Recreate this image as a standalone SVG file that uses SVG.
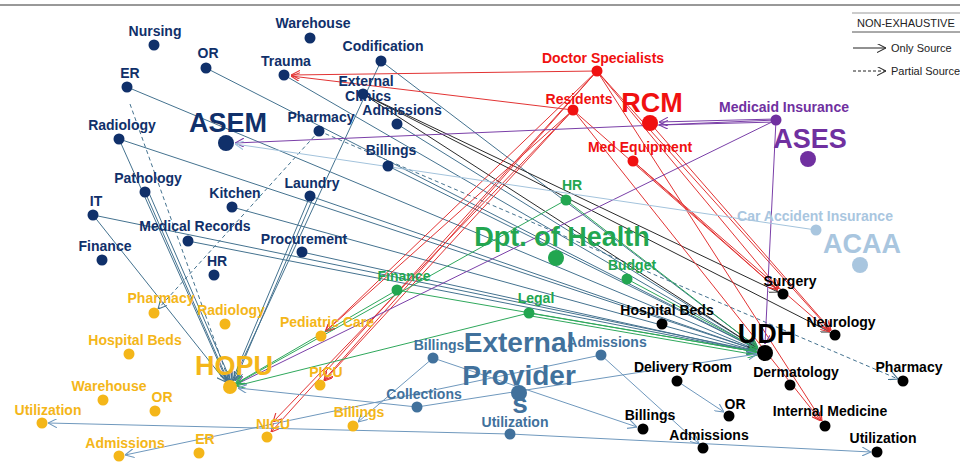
<svg xmlns="http://www.w3.org/2000/svg" width="960" height="462" viewBox="0 0 960 462">
<style>
.t{font-family:"Liberation Sans",Arial,sans-serif;font-weight:bold;font-size:14px;text-anchor:middle}
.big{font-size:27px}
.xl{font-size:28px}
.navy{fill:#10306a}.gold{fill:#f4b619}.red{fill:#f01010}.pur{fill:#7030a0}.grn{fill:#22a650}.lb{fill:#a9c6df}.blk{fill:#000}.ep{fill:#41719c}
line{fill:none;stroke-width:1}
.ca{stroke:#44728f}.cr{stroke:#e23434}.cp{stroke:#7a3fa8}.cg{stroke:#2fa85c}.cl{stroke:#a3c3dc}.ck{stroke:#2a2a2a}.ce{stroke:#6f98bd}
.d{stroke-dasharray:4 3}
.leg{font-family:"Liberation Sans",Arial,sans-serif;font-size:11px;fill:#222}
</style>
<defs>
<marker id="ma" viewBox="0 0 10 10" refX="10" refY="5" markerWidth="9" markerHeight="9" markerUnits="userSpaceOnUse" orient="auto"><path d="M0,0 L10,5 L0,10" fill="none" stroke="#44728f" stroke-width="1.2"/></marker>
<marker id="mr" viewBox="0 0 10 10" refX="10" refY="5" markerWidth="9" markerHeight="9" markerUnits="userSpaceOnUse" orient="auto"><path d="M0,0 L10,5 L0,10" fill="none" stroke="#e23434" stroke-width="1.2"/></marker>
<marker id="mp" viewBox="0 0 10 10" refX="10" refY="5" markerWidth="9" markerHeight="9" markerUnits="userSpaceOnUse" orient="auto"><path d="M0,0 L10,5 L0,10" fill="none" stroke="#7a3fa8" stroke-width="1.2"/></marker>
<marker id="mg" viewBox="0 0 10 10" refX="10" refY="5" markerWidth="9" markerHeight="9" markerUnits="userSpaceOnUse" orient="auto"><path d="M0,0 L10,5 L0,10" fill="none" stroke="#2fa85c" stroke-width="1.2"/></marker>
<marker id="ml" viewBox="0 0 10 10" refX="10" refY="5" markerWidth="9" markerHeight="9" markerUnits="userSpaceOnUse" orient="auto"><path d="M0,0 L10,5 L0,10" fill="none" stroke="#a3c3dc" stroke-width="1.2"/></marker>
<marker id="mk" viewBox="0 0 10 10" refX="10" refY="5" markerWidth="9" markerHeight="9" markerUnits="userSpaceOnUse" orient="auto"><path d="M0,0 L10,5 L0,10" fill="none" stroke="#2a2a2a" stroke-width="1.2"/></marker>
<marker id="me" viewBox="0 0 10 10" refX="10" refY="5" markerWidth="9" markerHeight="9" markerUnits="userSpaceOnUse" orient="auto"><path d="M0,0 L10,5 L0,10" fill="none" stroke="#6f98bd" stroke-width="1.2"/></marker>
</defs>
<rect width="960" height="462" fill="#fff"/>
<line x1="0" y1="5" x2="960" y2="5" stroke="#333" stroke-width="2"/>

<g id="connectors">
<g class="ca" marker-end="url(#ma)">
<line x1="206" y1="68" x2="757" y2="349"/>
<line x1="127" y1="87" x2="757" y2="350"/>
<line x1="284" y1="75" x2="757" y2="349"/>
<line x1="381" y1="61" x2="758" y2="348"/>
<line x1="119" y1="139" x2="756" y2="350"/>
<line x1="93" y1="215" x2="756" y2="351"/>
<line x1="232" y1="207" x2="756" y2="351"/>
<line x1="188" y1="241" x2="756" y2="352"/>
<line x1="310" y1="196" x2="756" y2="350"/>
<line x1="302" y1="252" x2="756" y2="352"/>
<line x1="388" y1="166" x2="757" y2="349"/>
<line x1="397" y1="124" x2="757" y2="348"/>
<line x1="119" y1="139" x2="227" y2="381"/>
<line x1="145" y1="192" x2="228" y2="381"/>
<line x1="149" y1="193" x2="231" y2="381"/>
<line x1="93" y1="215" x2="226" y2="382"/>
<line x1="310" y1="196" x2="232" y2="381"/>
<line x1="313" y1="198" x2="235" y2="381"/>
<line x1="381" y1="61" x2="233" y2="381"/>
<line class="d" x1="130" y1="104" x2="229" y2="381"/>
<line class="d" x1="319" y1="131" x2="158" y2="309"/>
<line class="d" x1="319" y1="131" x2="898" y2="379"/>
</g>
<g class="ck" marker-end="url(#mk)">
<line x1="363" y1="94" x2="778" y2="292"/>
<line x1="363" y1="94" x2="830" y2="332"/>
<line x1="363" y1="94" x2="757" y2="348"/>
</g>
<g class="cr" marker-end="url(#mr)">
<line x1="597" y1="71" x2="291" y2="75"/>
<line x1="573" y1="110" x2="291" y2="76"/>
<line x1="597" y1="71" x2="326" y2="331"/>
<line x1="597" y1="71" x2="324" y2="380"/>
<line x1="597" y1="71" x2="271" y2="432"/>
<line x1="573" y1="110" x2="325" y2="332"/>
<line x1="573" y1="110" x2="324" y2="381"/>
<line x1="573" y1="110" x2="273" y2="422"/>
<line x1="597" y1="71" x2="779" y2="289"/>
<line x1="597" y1="71" x2="831" y2="331"/>
<line x1="597" y1="71" x2="822" y2="421"/>
<line x1="573" y1="110" x2="778" y2="290"/>
<line x1="573" y1="110" x2="821" y2="421"/>
<line x1="650" y1="123" x2="831" y2="330"/>
<line x1="633" y1="161" x2="778" y2="290"/>
<line x1="633" y1="161" x2="830" y2="332"/>
</g>
<g class="cp" marker-end="url(#mp)">
<line x1="776" y1="119" x2="659" y2="122"/>
<line x1="776" y1="122" x2="659" y2="125"/>
<line x1="776" y1="120" x2="235" y2="143"/>
<line x1="776" y1="120" x2="237" y2="384"/>
<line x1="776" y1="120" x2="765" y2="344"/>
</g>
<g class="cg" marker-end="url(#mg)">
<line x1="566" y1="200" x2="236" y2="384"/>
<line x1="397" y1="290" x2="235" y2="384"/>
<line x1="529" y1="313" x2="236" y2="386"/>
<line x1="566" y1="200" x2="758" y2="348"/>
<line x1="627" y1="279" x2="758" y2="349"/>
<line x1="397" y1="290" x2="757" y2="352"/>
<line x1="529" y1="313" x2="757" y2="352"/>
<line x1="531" y1="316" x2="757" y2="355"/>
</g>
<g class="cl" marker-end="url(#ml)">
<line x1="816" y1="230" x2="235" y2="144"/>
</g>
<g class="ce" marker-end="url(#me)">
<line x1="433" y1="358" x2="358" y2="422"/>
<line x1="433" y1="358" x2="637" y2="427"/>
<line x1="601" y1="355" x2="699" y2="444"/>
<line x1="601" y1="355" x2="125" y2="455"/>
<line x1="677" y1="381" x2="724" y2="412"/>
<line x1="510" y1="434" x2="48" y2="423"/>
<line x1="510" y1="434" x2="871" y2="452"/>
<line x1="417" y1="407" x2="238" y2="388"/>
<line x1="417" y1="407" x2="757" y2="354"/>
</g>
</g>

<g id="asem" class="navy">
<g id="asem-nursing"><circle cx="154" cy="45" r="5.5"/><text class="t" x="155" y="36">Nursing</text></g>
<g id="asem-warehouse"><circle cx="310" cy="38" r="5.5"/><text class="t" x="313" y="28">Warehouse</text></g>
<g id="asem-or"><circle cx="206" cy="68" r="5.5"/><text class="t" x="208" y="58">OR</text></g>
<g id="asem-codification"><circle cx="381" cy="61" r="5.5"/><text class="t" x="383" y="51">Codification</text></g>
<g id="asem-trauma"><circle cx="284" cy="75" r="5.5"/><text class="t" x="286" y="66">Trauma</text></g>
<g id="asem-er"><circle cx="127" cy="87" r="5.5"/><text class="t" x="130" y="78">ER</text></g>
<g id="asem-clinics"><circle cx="363" cy="94" r="5.5"/><text class="t" x="366" y="86">External</text><text class="t" x="368" y="101">Clinics</text></g>
<g id="asem-admissions"><circle cx="397" cy="124" r="5.5"/><text class="t" x="402" y="115">Admissions</text></g>
<g id="asem-radiology"><circle cx="119" cy="139" r="5.5"/><text class="t" x="122" y="130">Radiology</text></g>
<g id="asem-main"><circle cx="226" cy="143" r="8"/><text class="t big" x="228" y="132">ASEM</text></g>
<g id="asem-pharmacy"><circle cx="319" cy="131" r="5.5"/><text class="t" x="321" y="122">Pharmacy</text></g>
<g id="asem-billings"><circle cx="388" cy="166" r="5.5"/><text class="t" x="391" y="155">Billings</text></g>
<g id="asem-pathology"><circle cx="145" cy="192" r="5.5"/><text class="t" x="148" y="183">Pathology</text></g>
<g id="asem-laundry"><circle cx="310" cy="196" r="5.5"/><text class="t" x="312" y="188">Laundry</text></g>
<g id="asem-kitchen"><circle cx="232" cy="207" r="5.5"/><text class="t" x="235" y="198">Kitchen</text></g>
<g id="asem-it"><circle cx="93" cy="215" r="5.5"/><text class="t" x="96" y="206">IT</text></g>
<g id="asem-records"><circle cx="188" cy="241" r="5.5"/><text class="t" x="195" y="231">Medical Records</text></g>
<g id="asem-procurement"><circle cx="302" cy="252" r="5.5"/><text class="t" x="304" y="244">Procurement</text></g>
<g id="asem-finance"><circle cx="102" cy="260" r="5.5"/><text class="t" x="105" y="251">Finance</text></g>
<g id="asem-hr"><circle cx="214" cy="275" r="5.5"/><text class="t" x="217" y="266">HR</text></g>
</g>

<g id="hopu" class="gold">
<g id="hopu-pharmacy"><circle cx="154" cy="313" r="5.5"/><text class="t" x="161" y="303">Pharmacy</text></g>
<g id="hopu-radiology"><circle cx="225" cy="324" r="5.5"/><text class="t" x="231" y="315">Radiology</text></g>
<g id="hopu-pediatric"><circle cx="321" cy="336" r="5.5"/><text class="t" x="327" y="327">Pediatric Care</text></g>
<g id="hopu-beds"><circle cx="129" cy="354" r="5.5"/><text class="t" x="135" y="345">Hospital Beds</text></g>
<g id="hopu-main"><circle cx="230" cy="387" r="7"/><text class="t big" x="234" y="375">HOPU</text></g>
<g id="hopu-picu"><circle cx="320" cy="385" r="5.5"/><text class="t" x="326" y="377">PICU</text></g>
<g id="hopu-warehouse"><circle cx="103" cy="400" r="5.5"/><text class="t" x="109" y="391">Warehouse</text></g>
<g id="hopu-or"><circle cx="155" cy="411" r="5.5"/><text class="t" x="162" y="402">OR</text></g>
<g id="hopu-utilization"><circle cx="42" cy="423" r="5.5"/><text class="t" x="48" y="415">Utilization</text></g>
<g id="hopu-nicu"><circle cx="267" cy="437" r="5.5"/><text class="t" x="273" y="429">NICU</text></g>
<g id="hopu-billings"><circle cx="353" cy="426" r="5.5"/><text class="t" x="359" y="417">Billings</text></g>
<g id="hopu-er"><circle cx="199" cy="453" r="5.5"/><text class="t" x="205" y="444">ER</text></g>
<g id="hopu-admissions"><circle cx="119" cy="456" r="5.5"/><text class="t" x="125" y="448">Admissions</text></g>
</g>

<g id="rcm" class="red">
<g id="rcm-doctors"><circle cx="597" cy="71" r="5.5"/><text class="t" x="603" y="63">Doctor Specialists</text></g>
<g id="rcm-residents"><circle cx="573" cy="110" r="5.5"/><text class="t" x="579" y="104">Residents</text></g>
<g id="rcm-main"><circle cx="650" cy="123" r="8"/><text class="t big" x="652" y="112">RCM</text></g>
<g id="rcm-equipment"><circle cx="633" cy="161" r="5.5"/><text class="t" x="640" y="152">Med Equipment</text></g>
</g>

<g id="ases" class="pur">
<g id="ases-medicaid"><circle cx="776" cy="120" r="5.5"/><text class="t" x="784" y="112">Medicaid Insurance</text></g>
<g id="ases-main"><circle cx="808" cy="159" r="8"/><text class="t big" x="810" y="148">ASES</text></g>
</g>

<g id="doh" class="grn">
<g id="doh-hr"><circle cx="566" cy="200" r="5.5"/><text class="t" x="572" y="190">HR</text></g>
<g id="doh-main"><circle cx="556" cy="258" r="8"/><text class="t big" x="562" y="246">Dpt. of Health</text></g>
<g id="doh-budget"><circle cx="627" cy="279" r="5.5"/><text class="t" x="632" y="270">Budget</text></g>
<g id="doh-finance"><circle cx="397" cy="290" r="5.5"/><text class="t" x="404" y="281">Finance</text></g>
<g id="doh-legal"><circle cx="529" cy="313" r="5.5"/><text class="t" x="536" y="303">Legal</text></g>
</g>

<g id="acaa" class="lb">
<g id="acaa-car"><circle cx="816" cy="230" r="5.5"/><text class="t" x="815" y="221">Car Accident Insurance</text></g>
<g id="acaa-main"><circle cx="860" cy="265" r="8"/><text class="t big" x="862" y="253">ACAA</text></g>
</g>

<g id="udh" class="blk">
<g id="udh-surgery"><circle cx="783" cy="294" r="5.5"/><text class="t" x="790" y="286">Surgery</text></g>
<g id="udh-neurology"><circle cx="835" cy="335" r="5.5"/><text class="t" x="841" y="327">Neurology</text></g>
<g id="udh-beds"><circle cx="662" cy="324" r="5.5"/><text class="t" x="667" y="315">Hospital Beds</text></g>
<g id="udh-main"><circle cx="765" cy="353" r="8"/><text class="t big" x="767" y="343">UDH</text></g>
<g id="udh-delivery"><circle cx="677" cy="381" r="5.5"/><text class="t" x="683" y="372">Delivery Room</text></g>
<g id="udh-dermatology"><circle cx="790" cy="385" r="5.5"/><text class="t" x="796" y="377">Dermatology</text></g>
<g id="udh-pharmacy"><circle cx="903" cy="381" r="5.5"/><text class="t" x="909" y="372">Pharmacy</text></g>
<g id="udh-or"><circle cx="729" cy="416" r="5.5"/><text class="t" x="735" y="409">OR</text></g>
<g id="udh-internal"><circle cx="825" cy="426" r="5.5"/><text class="t" x="830" y="416">Internal Medicine</text></g>
<g id="udh-billings"><circle cx="643" cy="429" r="5.5"/><text class="t" x="650" y="420">Billings</text></g>
<g id="udh-admissions"><circle cx="703" cy="448" r="5.5"/><text class="t" x="709" y="440">Admissions</text></g>
<g id="udh-utilization"><circle cx="877" cy="452" r="5.5"/><text class="t" x="883" y="443">Utilization</text></g>
</g>

<g id="ep" class="ep">
<g id="ep-billings"><circle cx="433" cy="358" r="5.5"/><text class="t" x="439" y="350">Billings</text></g>
<g id="ep-main"><circle cx="519" cy="393" r="8"/><text class="t xl" x="519" y="352">External</text><text class="t xl" x="519" y="385">Provider</text><text class="t xl" x="520" y="413">s</text></g>
<g id="ep-admissions"><circle cx="601" cy="355" r="5.5"/><text class="t" x="607" y="347">Admissions</text></g>
<g id="ep-collections"><circle cx="417" cy="407" r="5.5"/><text class="t" x="424" y="399">Collections</text></g>
<g id="ep-utilization"><circle cx="510" cy="434" r="5.5"/><text class="t" x="515" y="427">Utilization</text></g>
</g>

<g id="legend">
<line x1="852" y1="13" x2="960" y2="13" stroke="#999" stroke-width="1"/>
<line x1="852" y1="32" x2="960" y2="32" stroke="#555" stroke-width="1"/>
<text class="leg" x="857" y="27">NON-EXHAUSTIVE</text>
<line x1="853" y1="48" x2="886" y2="48" stroke="#222" marker-end="url(#mk)"/>
<text class="leg" x="891" y="52">Only Source</text>
<line x1="853" y1="71" x2="886" y2="71" stroke="#222" stroke-dasharray="3 2" marker-end="url(#mk)"/>
<text class="leg" x="891" y="75">Partial Source</text>
</g>
</svg>
